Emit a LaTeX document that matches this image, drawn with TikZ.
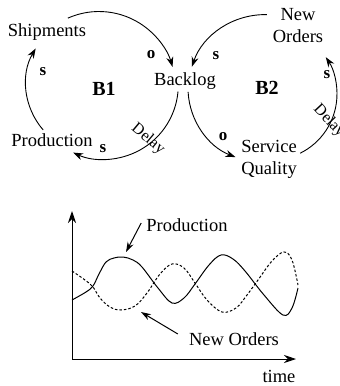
\documentclass[tikz,border=0pt]{standalone}
\usepackage{fontspec}
\setmainfont{Liberation Serif}
\usetikzlibrary{arrows.meta,calc}
\begin{document}
\begin{tikzpicture}[x=1pt,y=1pt,
  lbl/.style={font=\fontsize{18.5}{22}\selectfont, inner sep=1pt, align=center},
  loopname/.style={font=\fontsize{20}{22}\selectfont\bfseries, inner sep=0pt},
  sign/.style={font=\fontsize{17}{19}\selectfont\bfseries, inner sep=0pt},
  delaytxt/.style={font=\fontsize{16}{18}\selectfont, inner sep=0pt},
  link/.style={line width=0.9pt, -{Stealth[length=10pt,width=7pt]}},
  axis/.style={line width=0.9pt, -{Stealth[length=12pt,width=8pt]}},
  pointer/.style={line width=1pt, -{Stealth[length=10pt,width=6.5pt]}},
  solidcurve/.style={line width=1pt},
  dashcurve/.style={line width=1pt, dash pattern=on 2.5pt off 2pt},
]
\useasboundingbox (0,0) rectangle (340,-386);

% ---------- causal loop diagram ----------
\node[lbl] (ship) at (47,-32) {Shipments};
\node[lbl] (back) at (185,-81) {Backlog};
\node[lbl] (prod) at (52,-140) {Production};
\node[lbl] (neword) at (298,-26) {New\\Orders};
\node[lbl] (serv) at (269,-159) {Service\\Quality};

\node[loopname] (b1) at (104,-89) {B1};
\node[loopname] (b2) at (267,-88) {B2};

% centres of the circular links
\coordinate (c1a) at (99,-88);
\coordinate (c1b) at (104,-85);
\coordinate (c1c) at (96,-84);
\coordinate (c2a) at (265,-92);
\coordinate (c2b) at (262,-88);
\coordinate (c2c) at (271,-94);

% loop B1
\draw[link] ($(c1a)+(114:76.5)$) arc[start angle=114, end angle=16, radius=76.5];
\draw[link] ($(c1b)+(-5:74.3)$) arc[start angle=-5, end angle=-114.6, radius=74.3];
\draw[link] ($(c1c)+(221:70)$) arc[start angle=221, end angle=149.5, radius=70];

% loop B2
\draw[link] ($(c2a)+(88.6:77.4)$) arc[start angle=88.6, end angle=161, radius=77.4];
\draw[link] ($(c2b)+(183:74)$) arc[start angle=183, end angle=249, radius=74];
\draw[link] ($(c2c)+(-63.8:66)$) arc[start angle=-63.8, end angle=33.9, radius=66];

% link polarities
\node[sign] (p1) at (151,-55) {o};
\node[sign] (p2) at (216,-56) {s};
\node[sign] (p3) at (43,-72) {s};
\node[sign] (p4) at (103,-149) {s};
\node[sign] (p5) at (223,-137) {o};
\node[sign] (p6) at (327,-75) {s};

% delay marks
\node[delaytxt, rotate=-40] (d1) at (148,-139) {Delay};
\node[delaytxt, rotate=-47] (d2) at (329,-121) {Delay};

% ---------- behaviour over time ----------
\coordinate (origin) at (72,-359);
\draw[axis] (origin) -- ++(0,148);
\draw[axis] (origin) -- ++(224,0);

\draw[solidcurve] plot[smooth, tension=0.6] coordinates {
  (72,-300) (86,-292) (93,-286) (99,-274) (106,-262) (114,-258) (123,-257)
  (133,-260) (142,-267) (158,-288) (172,-303) (184,-298) (195,-284)
  (209,-265) (221,-255) (233,-259) (245,-271) (264,-295) (283,-315)
  (292,-308) (298,-288)};

\draw[dashcurve] plot[smooth, tension=0.6] coordinates {
  (72,-271) (85,-280) (93,-287) (100,-298) (110,-307) (121,-310)
  (135,-306) (147,-293) (160,-274) (172,-264) (184,-268) (195,-283)
  (207,-300) (222,-312) (236,-308) (247,-295) (258,-280) (272,-261)
  (284,-252) (292,-260) (298,-285)};

\node[lbl] (plab) at (187,-225) {Production};
\node[lbl] (nlab) at (234,-339) {New Orders};
\node[lbl] (tlab) at (279,-376) {time};

\coordinate (ppeak) at (126,-252);
\coordinate (ntrough) at (141,-312);
\draw[pointer] ([xshift=-4pt,yshift=2pt]plab.west) -- (ppeak);
\draw[pointer] ([xshift=-10pt,yshift=5pt]nlab.west) -- (ntrough);
\end{tikzpicture}
\end{document}
